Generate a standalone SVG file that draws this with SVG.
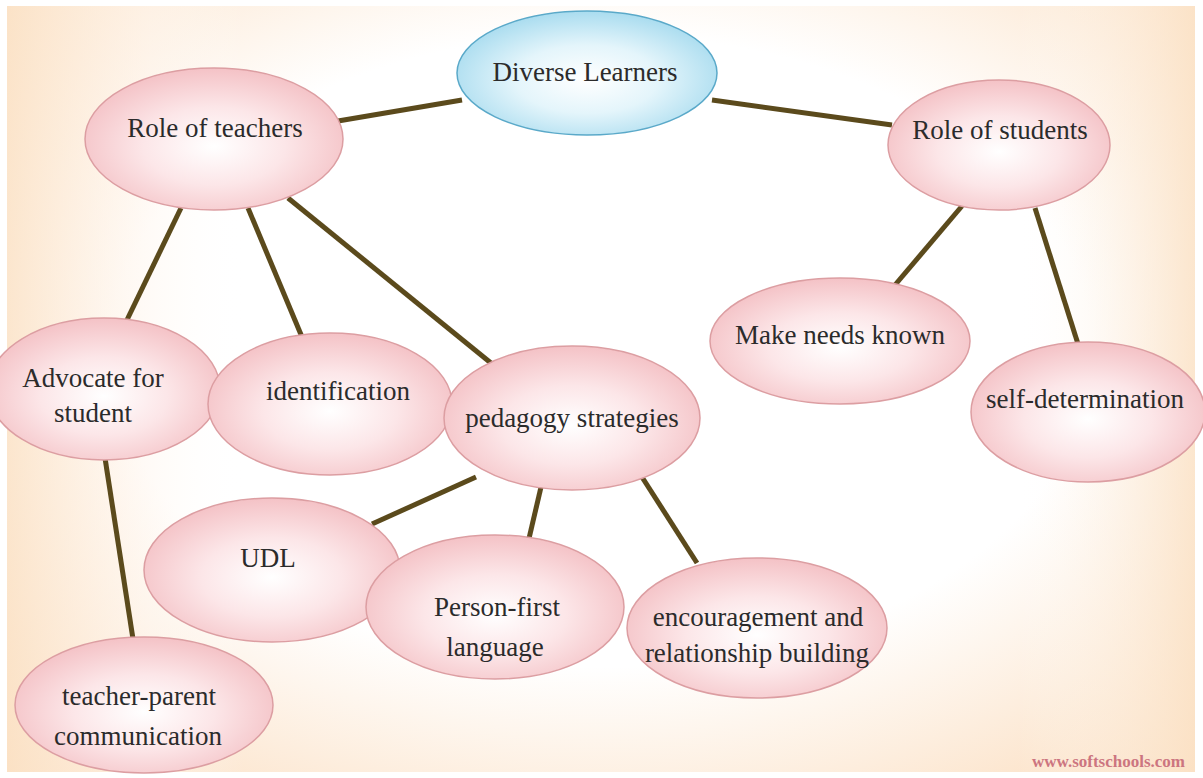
<svg xmlns="http://www.w3.org/2000/svg" width="1203" height="778" viewBox="0 0 1203 778">
<defs>
<radialGradient id="bg" cx="0.5" cy="0.45" r="0.75">
<stop offset="0.55" stop-color="#ffffff"/>
<stop offset="1" stop-color="#fbdcbc"/>
</radialGradient>
<linearGradient id="bgl" x1="0" y1="0" x2="1" y2="0">
<stop offset="0" stop-color="#fbe2c6"/>
<stop offset="0.12" stop-color="#fff6ee" stop-opacity="0.6"/>
<stop offset="0.2" stop-color="#ffffff" stop-opacity="0"/>
<stop offset="0.85" stop-color="#ffffff" stop-opacity="0"/>
<stop offset="1" stop-color="#fbe2c6"/>
</linearGradient>
<radialGradient id="pink" cx="0.5" cy="0.55" r="0.55">
<stop offset="0" stop-color="#ffffff"/>
<stop offset="0.5" stop-color="#fce6e8"/>
<stop offset="1" stop-color="#f4c2c6"/>
</radialGradient>
<radialGradient id="blue" cx="0.5" cy="0.55" r="0.55">
<stop offset="0" stop-color="#ffffff"/>
<stop offset="0.5" stop-color="#e4f5fb"/>
<stop offset="1" stop-color="#a9dcef"/>
</radialGradient>
<style>
.n{fill:url(#pink);stroke:#dc9ea2;stroke-width:1.5}
.b{fill:url(#blue);stroke:#5aa9c9;stroke-width:1.5}
.t{font-family:"Liberation Serif","Times New Roman",serif;font-size:27px;fill:#2b2b2b;text-anchor:middle}
.c line{stroke:#5b4a1c;stroke-width:5;stroke-linecap:butt}
</style>
</defs>
<rect x="0" y="0" width="1203" height="778" fill="#ffffff"/>
<rect x="7" y="6" width="1188" height="766" fill="url(#bg)"/>
<rect x="7" y="6" width="1188" height="766" fill="url(#bgl)" opacity="0.8"/>
<g class="c" id="connectors">
<line x1="338" y1="121" x2="462" y2="100"/>
<line x1="712" y1="100" x2="892" y2="125"/>
<line x1="181" y1="208" x2="126" y2="322"/>
<line x1="248" y1="208" x2="302" y2="337"/>
<line x1="288" y1="198" x2="502" y2="372"/>
<line x1="962" y1="206" x2="895" y2="285"/>
<line x1="1035" y1="208" x2="1078" y2="344"/>
<line x1="105" y1="458" x2="133" y2="639"/>
<line x1="476" y1="477" x2="372" y2="524"/>
<line x1="545" y1="470" x2="527" y2="547"/>
<line x1="633" y1="463" x2="697" y2="563"/>
</g>
<g id="diverse"><ellipse class="b" cx="587" cy="73" rx="130" ry="62"/><text class="t" x="585" y="81">Diverse Learners</text></g>
<g id="teachers"><ellipse class="n" cx="214" cy="139" rx="129" ry="71"/><text class="t" x="215" y="137">Role of teachers</text></g>
<g id="students"><ellipse class="n" cx="999" cy="145" rx="111" ry="65"/><text class="t" x="1000" y="139">Role of students</text></g>
<g id="needs"><ellipse class="n" cx="840" cy="341" rx="130" ry="63"/><text class="t" x="840" y="344">Make needs known</text></g>
<g id="selfdet"><ellipse class="n" cx="1088" cy="412" rx="117" ry="70"/><text class="t" x="1085" y="408">self-determination</text></g>
<g id="advocate"><ellipse class="n" cx="104" cy="389" rx="116" ry="71"/><text class="t" x="93" y="387">Advocate for</text><text class="t" x="93" y="422">student</text></g>
<g id="identification"><ellipse class="n" cx="330" cy="404" rx="122" ry="71"/><text class="t" x="338" y="400">identification</text></g>
<g id="pedagogy"><ellipse class="n" cx="572" cy="418" rx="128" ry="72"/><text class="t" x="572" y="427">pedagogy strategies</text></g>
<g id="udl"><ellipse class="n" cx="272" cy="570" rx="128" ry="72"/><text class="t" x="268" y="567">UDL</text></g>
<g id="personfirst"><ellipse class="n" cx="495" cy="607" rx="129" ry="72"/><text class="t" x="497" y="616">Person-first</text><text class="t" x="495" y="656">language</text></g>
<g id="encouragement"><ellipse class="n" cx="757" cy="628" rx="130" ry="70"/><text class="t" x="758" y="626">encouragement and</text><text class="t" x="757" y="662">relationship building</text></g>
<g id="teacherparent"><ellipse class="n" cx="144" cy="705" rx="129" ry="68"/><text class="t" x="139" y="705">teacher-parent</text><text class="t" x="138" y="745">communication</text></g>
<text x="1185" y="767" font-family="Liberation Serif,serif" font-size="17" font-weight="bold" fill="#cc7580" text-anchor="end">www.softschools.com</text>
</svg>
